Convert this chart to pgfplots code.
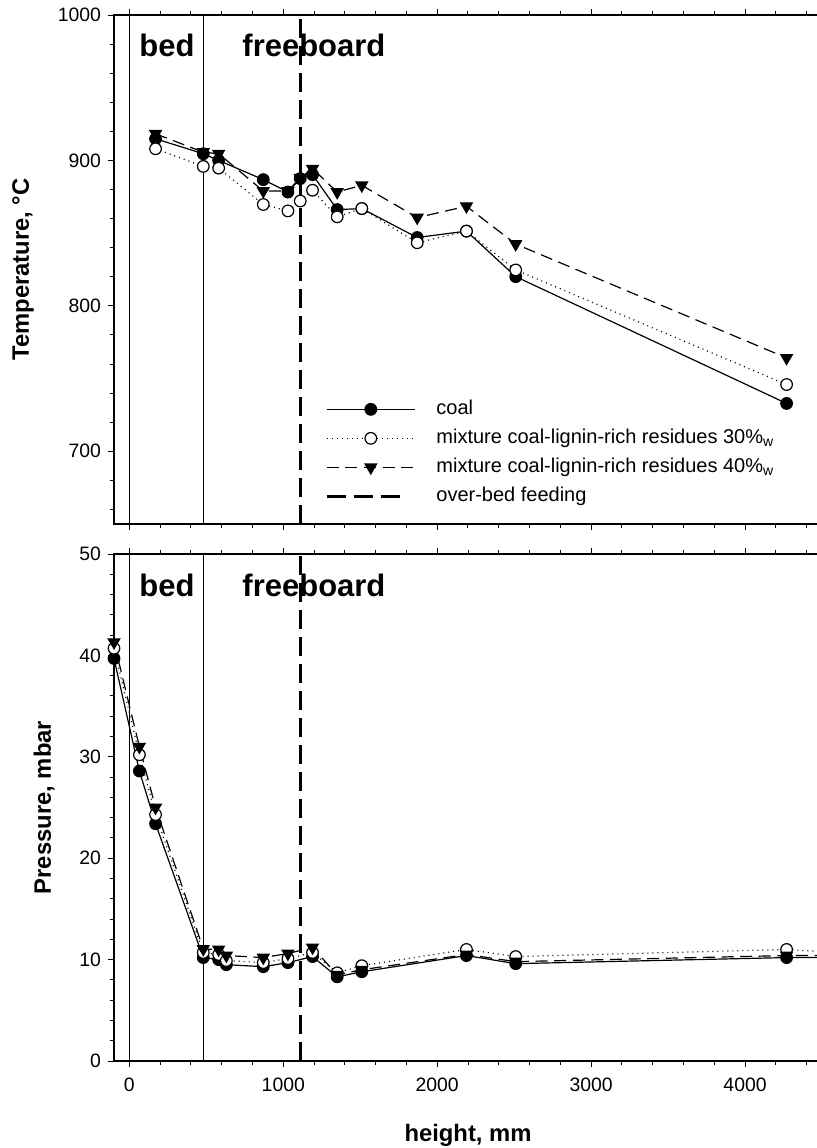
\documentclass[border=0pt]{standalone}
\usepackage{fontspec}
\setmainfont{Liberation Sans}
\usepackage{pgfplots}
\pgfplotsset{compat=1.18}

% shared look of both panels
\pgfplotsset{
  panel/.style={
    scale only axis, width=354pt,
    xmin=-100, xmax=4500,
    xtick={0,1000,2000,3000,4000},
    minor xtick={200,400,...,4400},
    xtick pos=both, ytick pos=left,
    tick align=outside,
    major tick length=3pt, minor tick length=2pt,
    tick style={black, line width=0.5pt},
    axis line style={line width=0.6pt},
    tick label style={font=\fontsize{9.7}{11}\selectfont},
    xticklabel style={yshift=-2pt},
    /pgf/number format/assume math mode=true,
    /pgf/number format/1000 sep={},
    label style={font=\bfseries\fontsize{11.9}{14}\selectfont},
  },
  coal/.style={black, line width=0.6pt, mark=*, mark size=2.9pt, mark options={solid, fill=black}},
  mixA/.style={black, line width=0.6pt, dash pattern=on 0.5pt off 2pt, mark=*, mark size=2.9pt, mark options={solid, fill=white}},
  mixB/.style={black, line width=0.6pt, dash pattern=on 6pt off 3.3pt, mark=triangle*, mark size=3.3pt, mark options={solid, fill=black, rotate=180}},
}

\begin{document}
\begin{tikzpicture}
\useasboundingbox (0,0) rectangle (408.5pt,-574pt);

% ---------- temperature ----------
\begin{axis}[panel,
  at={(57pt,-7.5pt)}, anchor=north west, height=254.5pt,
  ymin=650, ymax=1000,
  ytick={700,800,900,1000}, minor ytick={660,680,...,980},
  xticklabels={},
  ylabel={Temperature, °C},
  ylabel style={at={(axis description cs:-0.1285,0.5)}, anchor=center},
  legend style={at={(axis cs:1271,736)}, anchor=north west, draw=none, fill=none,
    inner sep=0pt, row sep=4.5pt, column sep=10.5pt, cells={anchor=west},
    nodes={inner sep=0pt, text height=7.5pt, text depth=2.5pt, font=\fontsize{10}{12}\selectfont}},
  legend image code/.code={\draw[mark repeat=2,mark phase=2,#1] plot coordinates {(0pt,0pt) (22pt,0pt) (44pt,0pt)};},
]
\addplot[forget plot, black, line width=0.5pt] coordinates {(0,650) (0,1000)};
\addplot[forget plot, black, line width=0.5pt] coordinates {(480,650) (480,1000)};
\addplot[forget plot, black, line width=1.4pt, dash pattern=on 9.5pt off 4pt] coordinates {(1110,650) (1110,1000)};
\node[anchor=west, inner sep=0pt, font=\bfseries\fontsize{15.5}{18}\selectfont] at (axis cs:63,979) {bed};
\node[anchor=west, inner sep=0pt, font=\bfseries\fontsize{15.5}{18}\selectfont] at (axis cs:732,979) {freeboard};

\addplot[coal] coordinates {
  (170,914.9) (480,904.6) (580,900.0) (870,886.8) (1030,878.3) (1110,887.5) (1190,890.2)
  (1350,866.2) (1510,866.9) (1870,847.0) (2190,851.4) (2510,820.1) (4270,732.9)};
\addlegendentry{coal}
\addplot[mixA] coordinates {
  (170,908.0) (480,895.9) (580,894.7) (870,869.7) (1030,865.3) (1110,872.1) (1190,879.5)
  (1350,861.2) (1510,866.9) (1870,843.4) (2190,851.4) (2510,824.7) (4270,745.9)};
\addlegendentry{mixture coal-lignin-rich residues 30\%\textsubscript{w}}
\addplot[mixB] coordinates {
  (170,918.3) (480,905.7) (580,904.6) (870,879.0) (1030,879.0) (1110,888.0) (1190,894.3)
  (1350,878.3) (1510,882.9) (1870,860.7) (2190,868.5) (2510,842.5) (4270,764.2)};
\addlegendentry{mixture coal-lignin-rich residues 40\%\textsubscript{w}}
\addlegendimage{legend image code/.code={\draw[black, line width=1.4pt, dash pattern=on 9.5pt off 4pt] (0pt,0pt) -- (39pt,0pt);}}
\addlegendentry{over-bed feeding}
\end{axis}

% ---------- pressure ----------
\begin{axis}[panel,
  at={(57pt,-277pt)}, anchor=north west, height=253.5pt,
  ymin=0, ymax=50,
  ytick={0,10,20,30,40,50}, minor ytick={2,4,...,48},
  xlabel={height, mm},
  xlabel style={at={(axis description cs:0.5,-0.146)}, anchor=center},
  ylabel={Pressure, mbar},
  ylabel style={at={(axis description cs:-0.0989,0.5)}, anchor=center},
]
\addplot[forget plot, black, line width=0.5pt] coordinates {(0,0) (0,50)};
\addplot[forget plot, black, line width=0.5pt] coordinates {(480,0) (480,50)};
\addplot[forget plot, black, line width=1.4pt, dash pattern=on 9.5pt off 4pt] coordinates {(1110,0) (1110,50)};
\node[anchor=west, inner sep=0pt, font=\bfseries\fontsize{15.5}{18}\selectfont] at (axis cs:63,46.9) {bed};
\node[anchor=west, inner sep=0pt, font=\bfseries\fontsize{15.5}{18}\selectfont] at (axis cs:732,46.9) {freeboard};

\addplot[coal] coordinates {
  (-100,39.7) (65,28.6) (170,23.4) (480,10.2) (580,10.0) (630,9.5) (870,9.3) (1030,9.7)
  (1190,10.3) (1350,8.3) (1510,8.8) (2190,10.4) (2510,9.6) (4270,10.2) (4700,10.2)};
\addplot[mixA] coordinates {
  (-100,40.7) (65,30.2) (170,24.3) (480,10.7) (580,10.5) (630,9.9) (870,9.7) (1030,10.1)
  (1190,10.7) (1350,8.7) (1510,9.4) (2190,11.0) (2510,10.3) (4270,11.0) (4700,10.6)};
\addplot[mixB] coordinates {
  (-100,41.3) (65,31.0) (170,25.0) (480,11.05) (580,11.0) (630,10.4) (870,10.2) (1030,10.6)
  (1190,11.2) (1350,8.5) (1510,9.0) (2190,10.5) (2510,9.8) (4270,10.4) (4700,10.4)};
\end{axis}
\end{tikzpicture}
\end{document}
